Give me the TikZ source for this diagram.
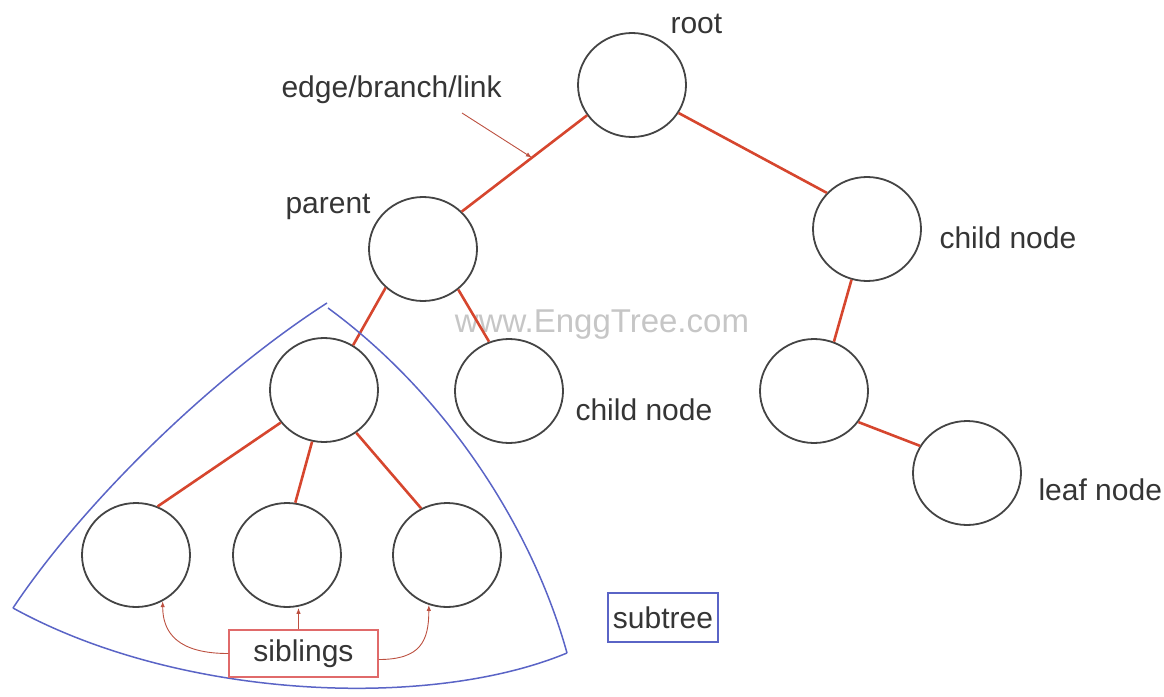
\documentclass[tikz,border=0pt]{standalone}
\usepackage{fontspec}
\setmainfont{Liberation Sans}
\usetikzlibrary{arrows.meta,shapes.geometric}
\definecolor{ink}{HTML}{353535}
\definecolor{rim}{HTML}{444444}
\definecolor{branchred}{HTML}{D6462E}
\definecolor{pointred}{HTML}{BC5040}
\definecolor{sibred}{HTML}{E06A6A}
\definecolor{subblue}{HTML}{5A64C6}
\definecolor{markgray}{HTML}{C6C6C6}

\begin{document}
\begin{tikzpicture}[
    x=1pt, y=-1pt,
    >={Latex[length=6pt,width=4.5pt]},
    every node/.style={font=\fontsize{30}{34}\selectfont, text=ink},
    vertex/.style={ellipse, draw=rim, line width=1.8pt, minimum width=108pt, minimum height=104pt, inner sep=0pt},
    branch/.style={branchred, line width=2.6pt},
    pointer/.style={pointred, line width=0.9pt, ->},
    region/.style={subblue, line width=1.5pt},
    tag/.style={line width=1.5pt, inner sep=0pt},
]
\useasboundingbox (0,0) rectangle (1164,696);

% --- Watermark ---
\node[text=markgray, font=\fontsize{33}{36}\selectfont] (mark) at (602,325) {www.EnggTree.com};

% --- Tree nodes ---
\node[vertex] (root)   at (632,85)  {};
\node[vertex] (parent) at (423,249) {};
\node[vertex] (rchild) at (867,229) {};
\node[vertex] (sroot)  at (324,390) {};
\node[vertex] (mchild) at (509,391) {};
\node[vertex] (rmid)   at (814,391) {};
\node[vertex] (leaf)   at (967,473) {};
\node[vertex] (sib1)   at (136,555) {};
\node[vertex] (sib2)   at (287,555) {};
\node[vertex] (sib3)   at (447,555) {};

% --- Branches ---
\draw[branch] (root.214) -- coordinate[pos=0.44] (hit) (parent.44);
\draw[branch] (root.-31) -- (rchild.138);
\draw[branch] (parent.226) -- (sroot.57);
\draw[branch] (parent.311) -- (mchild.112);
\draw[branch] (rchild.253) -- (rmid.68);
\draw[branch] (rmid.325) -- (leaf.150);
\draw[branch] (sroot.217) -- (sib1.66);
\draw[branch] (sroot.257) -- (sib2.81);
\draw[branch] (sroot.307) -- (sib3.119);

% --- Labels ---
\node[anchor=base west] (rootlab) at (667,33) {root};
\node[anchor=base west] (eblab) at (278,97) {edge/branch/link};
\node[anchor=base west] (parlab) at (282,213) {parent};
\node[anchor=base west] (rchlab) at (936,248) {child node};
\node[anchor=base west] (mchlab) at (572,420) {child node};
\node[anchor=base west] (leaflab) at (1035,500) {leaf node};

% pointer from label to the branch
\coordinate (tail) at (462,113);
\draw[pointer] (tail) -- (hit);

% --- Subtree outline ---
\draw[region] (13,608) .. controls (85,500) and (215,375) .. (327,303);
\draw[region] (328,308) .. controls (440,390) and (530,520) .. (567,653);
\draw[region] (13,608) .. controls (180,700) and (430,710) .. (567,653);

% --- Siblings box and its arrows ---
\node[tag, draw=sibred, minimum width=149pt, minimum height=47pt] (sib) at (303.5,653.5) {siblings};
\draw[pointer] (sib.west) .. controls +(-50,0) and +(0,32) .. (sib1.300);
\draw[pointer] ([xshift=-5pt]sib.north) -- ([xshift=-5pt]sib.north |- sib2.south);
\draw[pointer] ([yshift=-6pt]sib.east) .. controls +(42,0) and +(0,36) .. (sib3.250);

% --- Subtree tag ---
\node[tag, draw=subblue, minimum width=110pt, minimum height=49pt] (subtag) at (663,617.5) {subtree};

\end{tikzpicture}
\end{document}
